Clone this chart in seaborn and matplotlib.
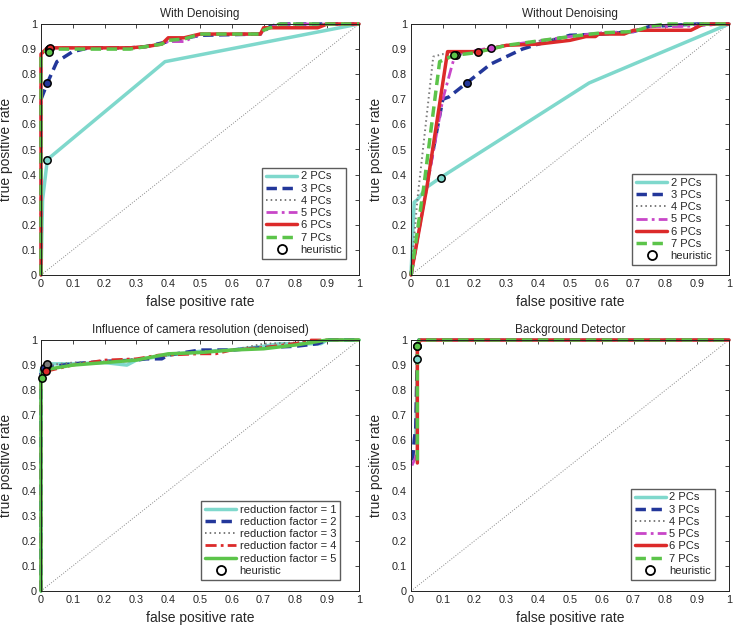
import matplotlib
matplotlib.use('Agg')
import matplotlib.pyplot as plt
from matplotlib.lines import Line2D
import seaborn as sns

sns.set_style('white')
plt.rcParams['font.family'] = ['Liberation Sans', 'DejaVu Sans']

# --- panel 1: with denoising ---
den_x = {
    '2 PCs': [0, 0.005, 0.02, 0.39, 1],
    '3 PCs': [0, 0, 0.02, 0.05, 0.1, 0.15, 0.28, 0.33, 0.4, 0.5, 0.69, 0.72, 0.75, 1],
    '4 PCs': [0, 0, 0.02, 0.28, 0.33, 0.38, 0.4, 0.45, 0.5, 0.69, 0.7, 0.75, 1],
    '5 PCs': [0, 0, 0.02, 0.28, 0.33, 0.38, 0.4, 0.45, 0.5, 0.69, 0.7, 0.75, 1],
    '6 PCs': [0, 0, 0.02, 0.28, 0.33, 0.38, 0.4, 0.45, 0.5, 0.69, 0.7, 0.87, 0.9, 1],
    '7 PCs': [0, 0, 0.02, 0.28, 0.33, 0.38, 0.4, 0.45, 0.5, 0.69, 0.7, 0.75, 1],
}
den_y = {
    '2 PCs': [0, 0.3, 0.46, 0.85, 1],
    '3 PCs': [0, 0.7, 0.765, 0.85, 0.89, 0.905, 0.905, 0.91, 0.93, 0.955, 0.96, 0.99, 1, 1],
    '4 PCs': [0, 0.88, 0.905, 0.905, 0.91, 0.92, 0.93, 0.94, 0.96, 0.96, 0.975, 1, 1],
    '5 PCs': [0, 0.88, 0.905, 0.905, 0.91, 0.92, 0.93, 0.93, 0.96, 0.96, 0.975, 1, 1],
    '6 PCs': [0, 0.88, 0.905, 0.905, 0.91, 0.92, 0.945, 0.945, 0.96, 0.96, 0.985, 0.985, 1, 1],
    '7 PCs': [0, 0.87, 0.9, 0.9, 0.91, 0.92, 0.935, 0.94, 0.96, 0.96, 0.975, 1, 1],
}
den_heur = {'2 PCs': (0.02, 0.46), '3 PCs': (0.02, 0.765), '4 PCs': (0.025, 0.9),
            '5 PCs': (0.025, 0.9), '6 PCs': (0.027, 0.905), '7 PCs': (0.025, 0.89)}

# --- panel 2: without denoising ---
raw_x = {
    '2 PCs': [0, 0.01, 0.02, 0.05, 0.093, 0.3, 0.56, 0.7, 1],
    '3 PCs': [0, 0.04, 0.1, 0.12, 0.175, 0.25, 0.35, 0.4, 0.5, 0.6, 0.7, 0.75, 0.9, 1],
    '4 PCs': [0, 0.02, 0.07, 0.1, 0.14, 0.2, 0.3, 0.5, 0.6, 0.7, 0.75, 0.85, 1],
    '5 PCs': [0, 0.05, 0.1, 0.13, 0.14, 0.25, 0.3, 0.5, 0.6, 0.7, 0.75, 0.85, 1],
    '6 PCs': [0, 0.05, 0.115, 0.21, 0.3, 0.4, 0.5, 0.55, 0.58, 0.59, 0.67, 0.7, 0.88, 0.92, 1],
    '7 PCs': [0, 0.04, 0.09, 0.135, 0.2, 0.3, 0.5, 0.6, 0.7, 0.75, 0.8, 1],
}
raw_y = {
    '2 PCs': [0, 0.29, 0.3, 0.35, 0.388, 0.555, 0.765, 0.84, 1],
    '3 PCs': [0, 0.3, 0.7, 0.71, 0.765, 0.84, 0.9, 0.92, 0.955, 0.96, 0.97, 0.99, 1, 1],
    '4 PCs': [0, 0.3, 0.87, 0.88, 0.875, 0.885, 0.915, 0.95, 0.965, 0.97, 0.99, 1, 1],
    '5 PCs': [0, 0.35, 0.7, 0.84, 0.88, 0.905, 0.915, 0.95, 0.965, 0.97, 0.99, 0.99, 1],
    '6 PCs': [0, 0.35, 0.89, 0.89, 0.915, 0.92, 0.935, 0.95, 0.95, 0.96, 0.96, 0.975, 0.975, 1, 1],
    '7 PCs': [0, 0.35, 0.85, 0.875, 0.885, 0.915, 0.95, 0.965, 0.97, 0.99, 1, 1],
}
raw_heur = {'2 PCs': (0.093, 0.388), '3 PCs': (0.175, 0.765), '4 PCs': (0.14, 0.875),
            '5 PCs': (0.25, 0.905), '6 PCs': (0.21, 0.89), '7 PCs': (0.135, 0.875)}

# --- panel 3: camera resolution ---
res_labels = ['reduction factor = 1', 'reduction factor = 2', 'reduction factor = 3',
              'reduction factor = 4', 'reduction factor = 5']
res_x = {
    res_labels[0]: [0, 0, 0.02, 0.1, 0.2, 0.27, 0.3, 0.4, 0.5, 0.6, 0.7, 0.75, 0.88, 0.9, 1],
    res_labels[1]: [0, 0, 0.01, 0.1, 0.2, 0.3, 0.33, 0.38, 0.4, 0.5, 0.6, 0.7, 0.8, 0.87, 0.9, 1],
    res_labels[2]: [0, 0, 0.02, 0.1, 0.2, 0.3, 0.4, 0.5, 0.6, 0.68, 0.7, 0.8, 0.9, 1],
    res_labels[3]: [0, 0, 0.015, 0.1, 0.2, 0.3, 0.37, 0.4, 0.5, 0.55, 0.6, 0.7, 0.82, 0.85, 0.9, 1],
    res_labels[4]: [0, 0, 0.005, 0.1, 0.2, 0.3, 0.4, 0.5, 0.6, 0.7, 0.8, 0.9, 1],
}
res_y = {
    res_labels[0]: [0, 0.88, 0.905, 0.905, 0.91, 0.9, 0.92, 0.94, 0.955, 0.96, 0.975, 0.985, 0.985, 1, 1],
    res_labels[1]: [0, 0.87, 0.89, 0.905, 0.915, 0.92, 0.925, 0.925, 0.94, 0.96, 0.96, 0.97, 0.975, 0.985, 1, 1],
    res_labels[2]: [0, 0.88, 0.9, 0.91, 0.915, 0.925, 0.94, 0.955, 0.96, 0.98, 0.985, 0.99, 1, 1],
    res_labels[3]: [0, 0.86, 0.875, 0.9, 0.92, 0.925, 0.94, 0.94, 0.945, 0.945, 0.96, 0.97, 0.99, 1, 1, 1],
    res_labels[4]: [0, 0.85, 0.88, 0.9, 0.91, 0.92, 0.945, 0.95, 0.96, 0.965, 0.98, 1, 1],
}
res_heur = {res_labels[0]: (0.02, 0.9), res_labels[1]: (0.01, 0.89), res_labels[2]: (0.02, 0.905),
            res_labels[3]: (0.015, 0.875), res_labels[4]: (0.004, 0.85)}

# --- panel 4: background detector ---
bg_x = {
    '2 PCs': [0.015, 0.02, 0.02, 0.025, 1],
    '3 PCs': [0.005, 0.01, 0.015, 0.02, 0.025, 1],
    '4 PCs': [0.01, 0.02, 0.02, 0.03, 1],
    '5 PCs': [0.003, 0.01, 0.02, 0.02, 0.03, 1],
    '6 PCs': [0.02, 0.02, 0.03, 1],
    '7 PCs': [0.02, 0.02, 0.025, 1],
}
bg_y = {
    '2 PCs': [0.6, 0.9, 0.975, 1, 1],
    '3 PCs': [0.52, 0.6, 0.65, 0.97, 1, 1],
    '4 PCs': [0.52, 0.55, 0.98, 1, 1],
    '5 PCs': [0.5, 0.52, 0.55, 0.98, 1, 1],
    '6 PCs': [0.51, 0.98, 1, 1],
    '7 PCs': [0.52, 0.975, 1, 1],
}
bg_heur = {'2 PCs': (0.02, 0.925), '6 PCs': (0.02, 0.975), '7 PCs': (0.02, 0.975)}

pc_colors = ['#7fd8cc', '#23379a', '#7a7a7a', '#c846c8', '#dc2a2a', '#5cc44a']
pc_styles = ['-', (0, (3, 1.6)), (0, (0.8, 1.6)), (0, (4, 1.5, 1, 1.5)), '-', (0, (3, 1.6))]
pc_widths = [2.5, 2.5, 1.4, 2.0, 2.5, 2.5]
res_colors = ['#7fd8cc', '#23379a', '#7a7a7a', '#dc2a2a', '#5cc44a']
res_styles = ['-', (0, (3, 1.6)), (0, (0.8, 1.6)), (0, (4, 1.5, 1, 1.5)), '-']
res_widths = [2.5, 2.5, 1.4, 2.0, 2.5]


def draw_panel(ax, xs, ys, heur, colors, styles, widths, title, leg_anchor):
    ax.plot([0, 1], [0, 1], ls=':', color='#888888', lw=0.7)
    handles = []
    for i, name in enumerate(xs):
        sns.lineplot(x=xs[name], y=ys[name], sort=False, estimator=None, ax=ax,
                     color=colors[i], linestyle=styles[i], lw=widths[i], clip_on=False)
        handles.append(Line2D([], [], color=colors[i], ls=styles[i], lw=widths[i], label=name))
    for i, name in enumerate(xs):
        if name in heur:
            hx, hy = heur[name]
            ax.scatter([hx], [hy], s=28, facecolor=colors[i], edgecolor='black', lw=1.1,
                       zorder=5, clip_on=False)
    handles.append(Line2D([], [], ls='none', marker='o', mfc='none', mec='black', ms=6.5, mew=1.3,
                          label='heuristic'))
    leg = ax.legend(handles=handles, loc='lower right', bbox_to_anchor=leg_anchor, fontsize=8,
                    frameon=True, fancybox=False, edgecolor='#333333', handlelength=2.8,
                    handletextpad=0.3, labelspacing=0.2, borderpad=0.35, borderaxespad=0)
    leg.set_zorder(10)
    ax.set_xlim(0, 1)
    ax.set_ylim(0, 1)
    ticks = [0, 0.1, 0.2, 0.3, 0.4, 0.5, 0.6, 0.7, 0.8, 0.9, 1]
    labels = ['0', '0.1', '0.2', '0.3', '0.4', '0.5', '0.6', '0.7', '0.8', '0.9', '1']
    ax.set_xticks(ticks)
    ax.set_xticklabels(labels)
    ax.set_yticks(ticks)
    ax.set_yticklabels(labels)
    ax.tick_params(direction='in', top=True, right=True, length=3, width=0.6,
                   labelsize=7.8, pad=3)
    for s in ax.spines.values():
        s.set_color('#222222')
        s.set_linewidth(0.7)
    ax.set_title(title, fontsize=8.5, pad=5)
    ax.set_xlabel('false positive rate', fontsize=10, labelpad=4)
    ax.set_ylabel('true positive rate', fontsize=10, labelpad=6)


fig = plt.figure(figsize=(7.37, 6.25), dpi=100)
w, h = 318 / 737, 251 / 625
ax1 = fig.add_axes([41 / 737, 350 / 625, w, h])
ax2 = fig.add_axes([411 / 737, 350 / 625, w, h])
ax3 = fig.add_axes([41 / 737, 34 / 625, w, h])
ax4 = fig.add_axes([411 / 737, 34 / 625, w, h])

draw_panel(ax1, den_x, den_y, den_heur, pc_colors, pc_styles, pc_widths, 'With Denoising', (0.96, 0.065))
draw_panel(ax2, raw_x, raw_y, raw_heur, pc_colors, pc_styles, pc_widths, 'Without Denoising', (0.96, 0.04))
draw_panel(ax3, res_x, res_y, res_heur, res_colors, res_styles, res_widths,
           'Influence of camera resolution (denoised)', (0.94, 0.045))
draw_panel(ax4, bg_x, bg_y, bg_heur, pc_colors, pc_styles, pc_widths, 'Background Detector', (0.955, 0.045))

fig.savefig('out.png', dpi=100)
